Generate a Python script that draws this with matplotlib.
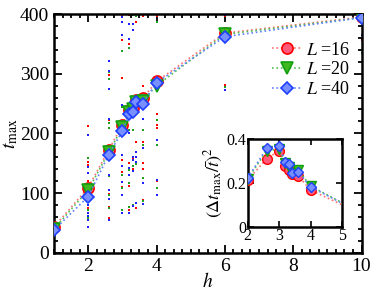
import numpy as np
import matplotlib
matplotlib.use('Agg')
import matplotlib.pyplot as plt

plt.rcParams['font.family'] = ['Liberation Serif', 'DejaVu Serif']
plt.rcParams['mathtext.fontset'] = 'stix'

# mean t_max per field h
h_vals = [1, 2, 2.6, 3, 3.2, 3.3, 3.4, 3.6, 4, 6, 10]
t16 = [43, 109, 172, 214, 239, 242, 256, 259, 287, 368, 395]
t20 = [40, 105, 168, 210, 236, 240, 253, 255, 280, 366, 394]
t40 = [38, 94, 164, 204, 232, 236, 253, 250, 285, 362, 394]

# relative variance (inset)
h_in = [2, 2.6, 3, 3.2, 3.3, 3.4, 3.6, 4, 6]
v16 = [0.213, 0.309, 0.347, 0.278, 0.259, 0.240, 0.233, 0.167, 0.033]
v20 = [0.218, 0.345, 0.355, 0.290, 0.270, 0.245, 0.260, 0.185, 0.034]
v40 = [0.222, 0.357, 0.369, 0.296, 0.285, 0.243, 0.251, 0.182, 0.032]

# single runs (small dots)
d16_h = [1, 1, 2, 2, 2, 2, 2, 2.6, 2.6, 2.6, 2.6, 2.6, 2.6, 3, 3, 3, 3, 3, 3,
         3.2, 3.2, 3.2, 3.2, 3.2, 3.3, 3.3, 3.3, 3.4, 3.4, 3.4,
         3.6, 3.6, 3.6, 3.6, 3.6, 3.6, 4, 4, 4, 4, 4, 6, 6, 10]
d16_t = [70, 55, 212, 152, 147, 120, 75, 298, 223, 209, 99, 77, 58, 398, 356, 292, 155, 136, 110,
         398, 350, 150, 111, 72, 398, 158, 140, 387, 186, 75,
         397, 279, 186, 150, 140, 88, 397, 232, 214, 209, 120, 396, 281, 356]
d20_h = [1, 1, 2, 2, 2, 2, 2, 2.6, 2.6, 2.6, 2.6, 2.6, 2.6, 2.6, 3, 3, 3, 3, 3, 3,
         3.2, 3.2, 3.2, 3.2, 3.2, 3.2, 3.3, 3.3, 3.3, 3.3, 3.4, 3.4,
         3.6, 3.6, 3.6, 3.6, 4, 4, 4, 4, 6, 10]
d20_t = [63, 50, 158, 144, 100, 72, 58, 302, 291, 217, 209, 128, 97, 75, 400, 338, 245, 130, 108, 72,
         400, 343, 205, 138, 117, 77, 398, 205, 145, 80, 396, 148,
         205, 180, 125, 86, 386, 223, 180, 108, 277, 334]
d40_h = [2, 2, 2, 2, 2, 2, 2, 2, 2.6, 2.6, 2.6, 2.6, 2.6, 2.6, 2.6, 2.6,
         3, 3, 3, 3, 3, 3, 3, 3, 3, 3.2, 3.2, 3.2, 3.2, 3.2, 3.2, 3.2,
         3.3, 3.3, 3.3, 3.3, 3.3, 3.3, 3.3, 3.4, 3.4, 3.4, 3.4, 3.4,
         3.6, 3.6, 3.6, 3.6, 3.6, 4, 4, 4, 4, 6, 6, 10]
d40_t = [197, 144, 133, 80, 67, 62, 55, 43, 322, 304, 274, 224, 130, 105, 90, 55,
         395, 387, 365, 247, 164, 145, 119, 97, 66, 400, 383, 358, 200, 142, 130, 66,
         400, 383, 374, 160, 155, 137, 78, 400, 169, 160, 152, 83,
         400, 224, 175, 117, 82, 400, 189, 122, 97, 398, 272, 365]

fig = plt.figure(figsize=(3.74, 2.92), dpi=100)
ax = fig.add_axes([0.1444, 0.1346, 0.8222, 0.8174])

ax.plot(d16_h, d16_t, 's', color='red', ms=1.9, mew=0, zorder=2)
ax.plot(d20_h, d20_t, 's', color='#20a020', ms=1.9, mew=0, zorder=2)
ax.plot(d40_h, d40_t, 's', color='#2020ff', ms=1.9, mew=0, zorder=2)

ax.plot(h_vals, t16, ':', color='#ff7070', lw=1.2, marker='o', ms=8,
        mfc='#ff5a7a', mec='red', mew=1.2, label='$L$ =16', zorder=3)
ax.plot(h_vals, t20, ':', color='#50c050', lw=1.2, marker='v', ms=8,
        mfc='#40b820', mec='#10a010', mew=1.2, label='$L$ =20', zorder=4)
ax.plot(h_vals, t40, ':', color='#6080ff', lw=1.2, marker='D', ms=6.5,
        mfc='#7890ff', mec='#2040ff', mew=1.2, label='$L$ =40', zorder=5)

ax.set_xlim(1, 10)
ax.set_ylim(0, 400)
ax.set_xticks([2, 4, 6, 8, 10])
ax.set_yticks([0, 100, 200, 300, 400])
ax.set_xticks(np.arange(1, 10.01, 0.25), minor=True)
ax.set_yticks(np.arange(0, 401, 20), minor=True)
ax.tick_params(which='both', direction='in', top=True, right=True, labelsize=14, width=1.3)
ax.tick_params(which='major', length=6)
ax.tick_params(which='minor', length=3)
for s in ax.spines.values():
    s.set_linewidth(1.8)
ax.set_xlabel('$h$', fontsize=14, labelpad=-2)
ax.set_ylabel('$t_{\\max}$', fontsize=14, labelpad=0)

leg = ax.legend(loc='upper right', bbox_to_anchor=(1.0, 0.93), frameon=False,
                fontsize=13, handlelength=1.6, handletextpad=0.3,
                labelspacing=0.15, borderaxespad=0.2)

ins = fig.add_axes([0.6623, 0.2236, 0.2521, 0.3004])
ins.plot(h_in, v16, ':', color='#ff7070', lw=1.2, marker='o', ms=7,
         mfc='#ff5a7a', mec='red', mew=1.0, zorder=3)
ins.plot(h_in, v20, ':', color='#50c050', lw=1.2, marker='v', ms=7,
         mfc='#40b820', mec='#10a010', mew=1.0, zorder=4)
ins.plot(h_in, v40, ':', color='#6080ff', lw=1.2, marker='D', ms=5.5,
         mfc='#7890ff', mec='#2040ff', mew=1.0, zorder=5)
ins.set_xlim(2, 5)
ins.set_ylim(0, 0.4)
ins.set_xticks([2, 3, 4, 5])
ins.set_yticks([0, 0.2, 0.4])
ins.set_yticklabels(['0', '0.2', '0.4'])
ins.tick_params(direction='in', top=True, right=True, labelsize=11.5, length=4,
                width=1.2, pad=1)
for s in ins.spines.values():
    s.set_linewidth(1.8)
ins.set_ylabel('$(\\Delta t_{\\max}/\\bar{t})^2$', fontsize=13, labelpad=1)

fig.savefig('out.png', dpi=100)
